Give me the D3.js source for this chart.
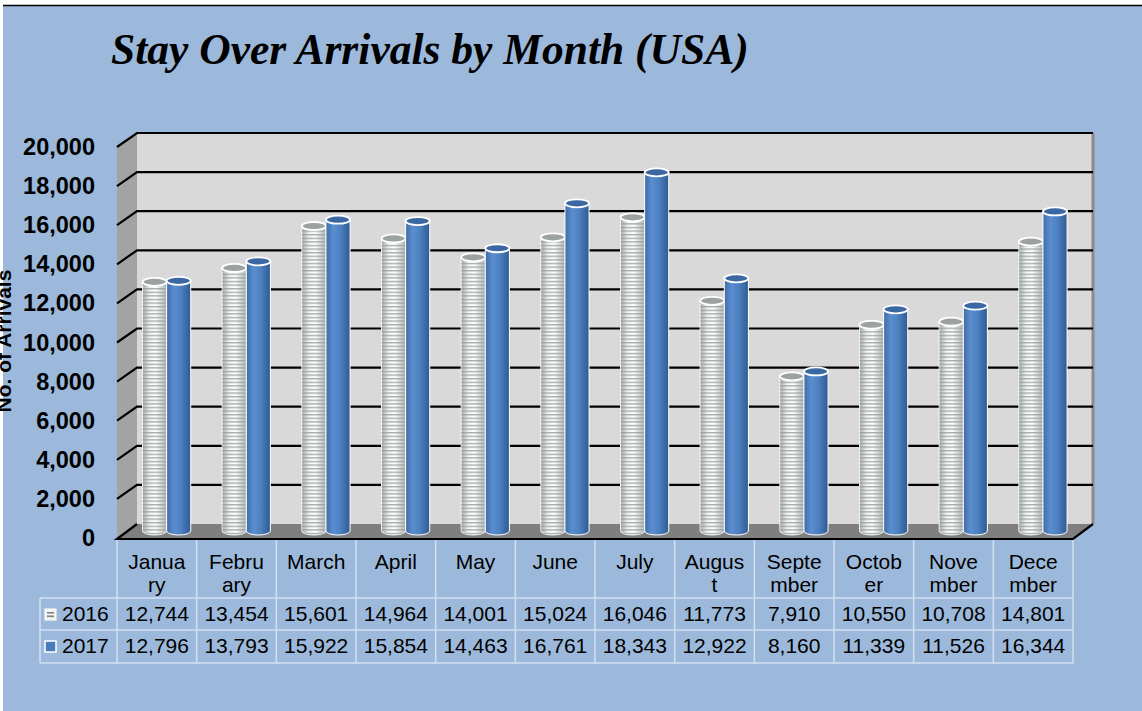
<!DOCTYPE html>
<html>
<head>
<meta charset="utf-8">
<script src="https://cdn.jsdelivr.net/npm/d3@7/dist/d3.min.js"></script>
<style>
  body { margin: 0; background: #fff; }
  text { font-family: "Liberation Sans", Arial, sans-serif; }
</style>
</head>
<body>
<script>
// chart data
var months = ["January", "February", "March", "April", "May", "June",
    "July", "August", "September", "October", "November", "December"];
var seriesNames = ["2016", "2017"];
var values2016 = [12744, 13454, 15601, 14964, 14001, 15024,
    16046, 11773, 7910, 10550, 10708, 14801];
var values2017 = [12796, 13793, 15922, 15854, 14463, 16761,
    18343, 12922, 8160, 11339, 11526, 16344];
var yTicks = [0, 2000, 4000, 6000, 8000, 10000, 12000, 14000, 16000,
    18000, 20000];
var chartTitle = "Stay Over Arrivals by Month (USA)";
var yTitle = "No. of Arrivals";

var seriesValues = [values2016, values2017];

var W = 1142, H = 711;
// front plane of the 3D box, and the depth offset of the back wall
var plot = {left: 117, right: 1073, top: 147, bottom: 538},
    depth = {dx: 20, dy: -14};

var svg = d3.select("body").append("svg")
    .attr("width", W)
    .attr("height", H);

var defs = svg.append("defs");

// ribbed look for the 2016 cylinders
var ribs = defs.append("pattern")
    .attr("id", "ribs")
    .attr("patternUnits", "userSpaceOnUse")
    .attr("width", 8)
    .attr("height", 3.6);
ribs.append("rect")
    .attr("width", 8).attr("height", 1.4)
    .attr("fill", "#939c9c").attr("opacity", 0.8);

function hGrad(id, stops) {
    var g = defs.append("linearGradient").attr("id", id)
        .attr("x1", "0%").attr("x2", "100%").attr("y1", "0%").attr("y2", "0%");
    stops.forEach(function(s) {
        g.append("stop").attr("offset", s[0]).attr("stop-color", s[1]);
    });
}
hGrad("g2016", [["0%", "#a3a8a8"], ["30%", "#f0f3f3"], ["55%", "#ffffff"],
    ["100%", "#afb4b4"]]);
hGrad("g2017", [["0%", "#3e6ba5"], ["30%", "#5b8ed0"], ["60%", "#4d80c0"],
    ["100%", "#2d5a92"]]);

// background
svg.append("rect")
    .attr("x", 3).attr("y", 6)
    .attr("width", W - 3).attr("height", H - 6)
    .attr("fill", "#9cb9db");
svg.append("line")
    .attr("x1", 3).attr("x2", W)
    .attr("y1", 5.5).attr("y2", 5.5)
    .attr("stroke", "#000").attr("stroke-width", 1.5);

// title
svg.append("text")
    .attr("x", 111)
    .attr("y", 64)
    .style("font-family", "'Liberation Serif', 'Times New Roman', serif")
    .style("font-weight", "bold")
    .style("font-style", "italic")
    .style("font-size", "43.5px")
    .text(chartTitle);

// y axis title, cut off by the left edge as in the picture
svg.append("text")
    .attr("transform", "translate(11,341) rotate(-90)")
    .attr("text-anchor", "middle")
    .style("font-weight", "bold")
    .style("font-size", "21px")
    .text(yTitle);

// scales
var x = d3.scaleBand().domain(months).range([plot.left, plot.right]);
var y = d3.scaleLinear().domain([0, 20000]).range([plot.bottom, plot.top]);
var xs = d3.scaleBand().domain(seriesNames)
    .range([x.bandwidth() * 0.195, x.bandwidth() * 0.8]);

// back wall
svg.append("rect")
    .attr("x", plot.left + depth.dx)
    .attr("y", plot.top + depth.dy)
    .attr("width", plot.right - plot.left)
    .attr("height", plot.bottom - plot.top)
    .attr("fill", "#d9d9d9");
svg.append("line")
    .attr("x1", plot.right + depth.dx).attr("x2", plot.right + depth.dx)
    .attr("y1", plot.top + depth.dy).attr("y2", plot.bottom + depth.dy)
    .attr("stroke", "#8c8c8c").attr("stroke-width", 3);

// left wall
svg.append("polygon")
    .attr("points", [[plot.left, plot.top],
        [plot.left + depth.dx, plot.top + depth.dy],
        [plot.left + depth.dx, plot.bottom + depth.dy],
        [plot.left, plot.bottom]].join(" "))
    .attr("fill", "#a3a3a3");

// gridlines: diagonal on the side wall, then across the back wall
svg.append("g").selectAll("polyline")
    .data(yTicks.filter(function(d) { return d > 0; }))
    .enter()
    .append("polyline")
    .attr("points", function(d) {
        return [[plot.left, y(d)],
            [plot.left + depth.dx, y(d) + depth.dy],
            [plot.right + depth.dx, y(d) + depth.dy]].join(" ");
    })
    .attr("fill", "none")
    .attr("stroke", "#000")
    .attr("stroke-width", 2.2);

// floor
svg.append("polygon")
    .attr("points", [[plot.left, plot.bottom],
        [plot.left + depth.dx, plot.bottom + depth.dy],
        [plot.right + depth.dx, plot.bottom + depth.dy],
        [plot.right, plot.bottom]].join(" "))
    .attr("fill", "#7f7f7f");
svg.append("polyline")
    .attr("points", [[plot.left + depth.dx, plot.bottom + depth.dy],
        [plot.left, plot.bottom + 1], [plot.right, plot.bottom + 1],
        [plot.right + depth.dx, plot.bottom + depth.dy]].join(" "))
    .attr("fill", "none")
    .attr("stroke", "#000")
    .attr("stroke-width", 2.2);

// y axis labels
var yAxis = d3.axisLeft(y)
    .tickValues(yTicks)
    .tickSize(0)
    .tickPadding(22)
    .tickFormat(d3.format(","));
var yAxisG = svg.append("g")
    .attr("transform", "translate(" + plot.left + ",0)")
    .call(yAxis);
yAxisG.select(".domain").remove();
yAxisG.selectAll("text")
    .attr("fill", "#000")
    .style("font-family", "'Liberation Sans', Arial, sans-serif")
    .style("font-weight", "bold")
    .style("font-size", "23.5px");

// cylinders, standing half way into the depth
var ry = 4;
var bars = [];
months.forEach(function(m, i) {
    seriesNames.forEach(function(s, j) {
        bars.push({month: m, series: s, value: seriesValues[j][i]});
    });
});

function cylBody(d) {
    var x0 = x(d.month) + xs(d.series) + depth.dx / 2,
        w = xs.bandwidth(),
        yb = y(0) + depth.dy / 2,
        yt = y(d.value) + depth.dy / 2;
    return "M" + x0 + "," + yt + "L" + x0 + "," + yb +
        "A" + (w / 2) + "," + ry + " 0 0 0 " + (x0 + w) + "," + yb +
        "L" + (x0 + w) + "," + yt + "Z";
}

var cyl = svg.append("g").selectAll("g")
    .data(bars)
    .enter()
    .append("g");

cyl.append("path")
    .attr("d", cylBody)
    .attr("fill", function(d) { return d.series == "2016" ? "url(#g2016)" : "url(#g2017)"; })
    .attr("stroke", "#ffffff")
    .attr("stroke-width", 1);

cyl.filter(function(d) { return d.series == "2016"; })
    .append("path")
    .attr("d", cylBody)
    .attr("fill", "url(#ribs)");

cyl.append("ellipse")
    .attr("cx", function(d) { return x(d.month) + xs(d.series) + depth.dx / 2 + xs.bandwidth() / 2; })
    .attr("cy", function(d) { return y(d.value) + depth.dy / 2; })
    .attr("rx", xs.bandwidth() / 2)
    .attr("ry", ry)
    .attr("fill", function(d) { return d.series == "2016" ? "#9ca1a1" : "#3b68a3"; })
    .attr("stroke", "#ffffff")
    .attr("stroke-width", 1.8);

// data table below the chart
var table = {left: 40, headBottom: 598, row1: 630, row2: 663};
var gridColor = "#d3dff0";
var tg = svg.append("g");

var colEdges = months.map(function(m) { return x(m); }).concat([plot.right]);
tg.selectAll("line.v")
    .data(colEdges)
    .enter()
    .append("line")
    .attr("x1", function(d) { return d; })
    .attr("x2", function(d) { return d; })
    .attr("y1", plot.bottom + 2)
    .attr("y2", table.row2)
    .attr("stroke", gridColor)
    .attr("stroke-width", 1.5);
tg.append("line")
    .attr("x1", table.left).attr("x2", table.left)
    .attr("y1", table.headBottom).attr("y2", table.row2)
    .attr("stroke", gridColor).attr("stroke-width", 1.5);
tg.selectAll("line.h")
    .data([table.headBottom, table.row1, table.row2])
    .enter()
    .append("line")
    .attr("x1", table.left).attr("x2", plot.right)
    .attr("y1", function(d) { return d; })
    .attr("y2", function(d) { return d; })
    .attr("stroke", gridColor)
    .attr("stroke-width", 1.5);

// month names, broken by character to fit the cell as the picture does
var maxW = 62;
tg.selectAll("text.month")
    .data(months)
    .enter()
    .append("text")
    .attr("class", "month")
    .attr("text-anchor", "middle")
    .style("font-size", "21px")
    .each(function(m) {
        var t = d3.select(this),
            cx = x(m) + x.bandwidth() / 2,
            lineNo = 0,
            line = "",
            tspan = t.append("tspan").attr("x", cx).attr("y", 569);
        m.split("").forEach(function(c) {
            tspan.text(line + c);
            if (line && tspan.node().getComputedTextLength() > maxW) {
                tspan.text(line);
                lineNo += 1;
                line = c;
                tspan = t.append("tspan").attr("x", cx)
                    .attr("y", 569 + lineNo * 23).text(c);
            } else {
                line += c;
            }
        });
    });

// value rows
var rowBase = [621, 653];
seriesNames.forEach(function(s, j) {
    tg.selectAll("text.v" + s)
        .data(seriesValues[j])
        .enter()
        .append("text")
        .attr("x", function(d, i) { return x(months[i]) + x.bandwidth() / 2; })
        .attr("y", rowBase[j])
        .attr("text-anchor", "middle")
        .style("font-size", "21px")
        .text(function(d) { return d3.format(",")(d); });

    tg.append("text")
        .attr("x", 62)
        .attr("y", rowBase[j])
        .style("font-size", "21px")
        .text(s);
});

// legend keys
var k1 = tg.append("g").attr("transform", "translate(45,609)");
k1.append("rect").attr("width", 11).attr("height", 11)
    .attr("fill", "#f2f2f2").attr("stroke", "#ffffff");
k1.append("rect").attr("x", 2).attr("y", 3).attr("width", 7).attr("height", 1.6)
    .attr("fill", "#7f8484");
k1.append("rect").attr("x", 2).attr("y", 6.5).attr("width", 7).attr("height", 1.6)
    .attr("fill", "#7f8484");
tg.append("rect")
    .attr("x", 45).attr("y", 641)
    .attr("width", 11).attr("height", 11)
    .attr("fill", "#4a7dbe")
    .attr("stroke", "#ffffff")
    .attr("stroke-width", 1.5);
</script>
</body>
</html>
